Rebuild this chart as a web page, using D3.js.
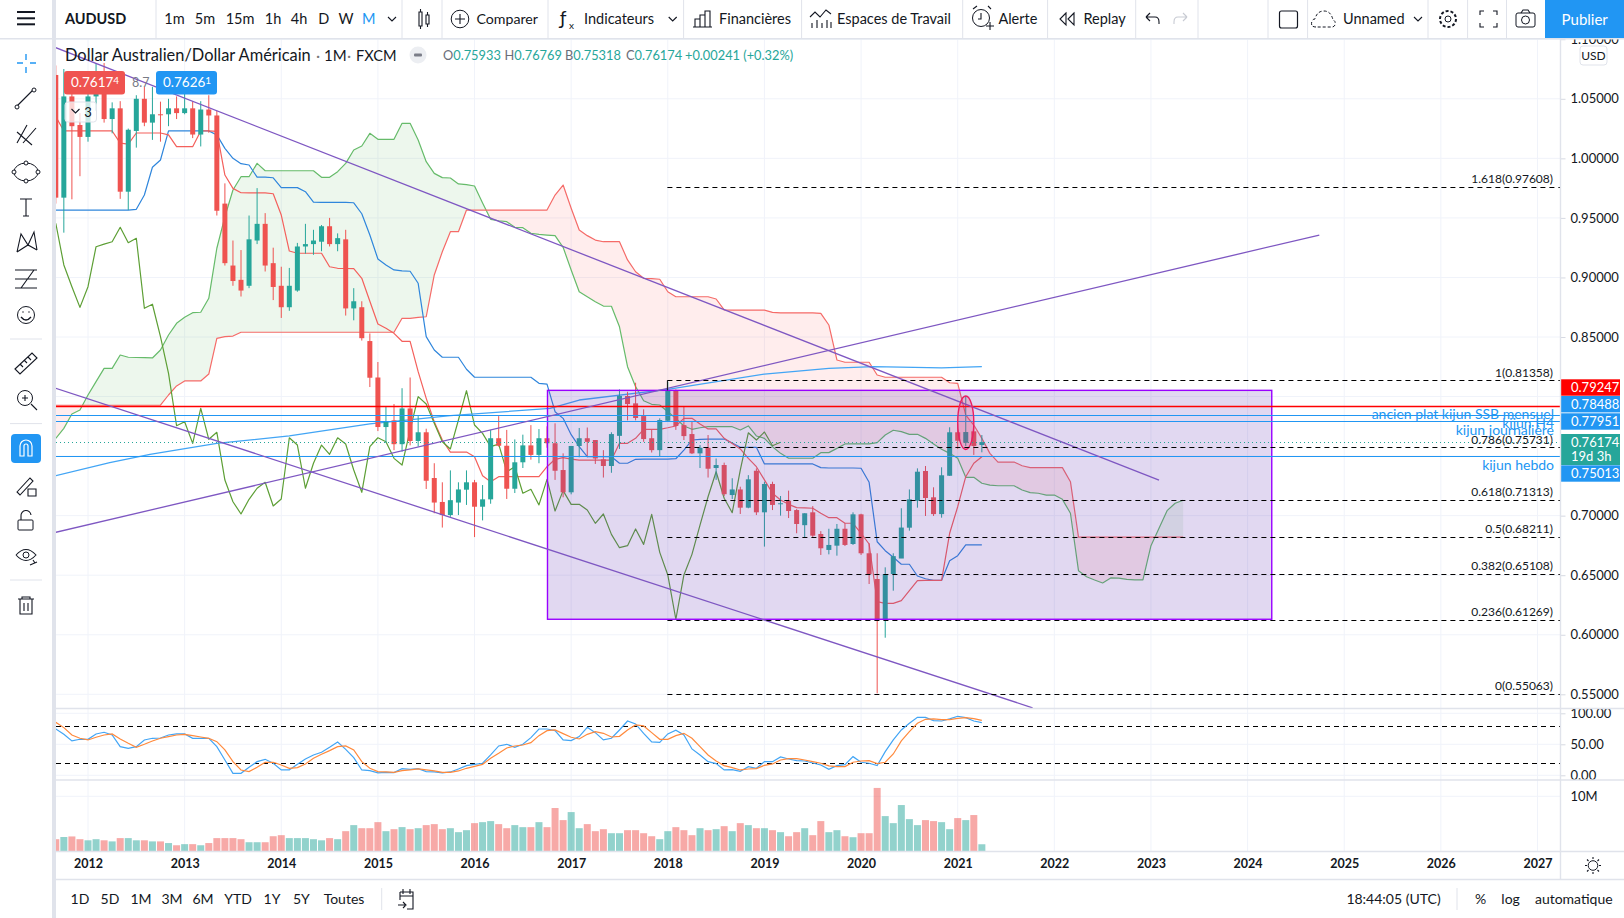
<!DOCTYPE html>
<html><head><meta charset="utf-8">
<script src="https://cdn.jsdelivr.net/npm/d3@7"></script>
<style>html,body{margin:0;padding:0;background:#fff;overflow:hidden}svg{display:block}
text{font-family:Lato,"Noto Sans",sans-serif;fill:#131722}</style></head>
<body><svg id="c" width="1624" height="918" xmlns="http://www.w3.org/2000/svg"></svg>
<script>
// ---- months are counted from Jan 2012; first candle = index -4 (Sep 2011)
const firstMonth=-4;
const opens=[1.070,.967,1.052,1.028,1.018,1.052,1.070,1.033,1.042,.972,
1.023,1.050,1.030,1.037,1.037,1.042,1.038,1.042,1.020,1.041,
1.036,.962,.910,.898,.893,.931,.945,.912,.893,.875,
.889,.926,.928,.930,.943,.928,.932,.874,.875,.8466,
.816,.7744,.780,.760,.790,.7627,.770,.7316,.7115,.7005,
.711,.7218,.728,.7075,.7137,.765,.7587,.7226,.7448,.759,
.751,.765,.7608,.7383,.7196,.7585,.765,.7635,.7473,.7417,
.767,.8005,.7943,.7836,.765,.755,.7797,.805,.776,.7685,
.7523,.757,.740,.7425,.7173,.722,.7067,.7377,.7028,.7266,
.7098,.7125,.7047,.692,.7028,.6846,.6712,.6748,.689,.6762,
.7011,.6684,.6468,.613,.651,.664,.6899,.7125,.7375,.7154,
.7013,.7335,.77,.7612,.7708,.75933];
const highs=[1.078,1.075,1.07,1.038,1.06,1.08,1.08,1.047,1.048,1.025,
1.053,1.06,1.06,1.0476,1.05,1.052,1.055,1.048,1.048,1.053,
1.04,.979,.931,.923,.952,.975,.954,.925,.909,.908,
.929,.945,.94,.944,.95,.937,.94,.891,.88,.853,
.829,.7915,.7937,.807,.816,.7836,.773,.744,.728,.738,
.728,.738,.73,.7257,.772,.7836,.772,.764,.768,.776,
.7727,.775,.7775,.7523,.7585,.7736,.774,.7635,.755,.77,
.806,.804,.8116,.7893,.772,.7817,.8125,.806,.7915,.779,
.7593,.7677,.748,.7445,.7314,.7243,.734,.7397,.7285,.7285,
.7165,.721,.7055,.702,.708,.687,.689,.693,.6936,.7028,
.7016,.6768,.6684,.6566,.6684,.7062,.722,.7397,.7417,.7238,
.7406,.7742,.7775,.8005,.775,.76769];
const lows=[.962,.9376,.9656,.985,1.014,1.04,1.03,1.021,.966,.9566,
1.009,1.027,1.0155,1.014,1.027,1.033,1.037,1.017,1.01,1.0215,
.952,.91,.893,.884,.891,.928,.905,.881,.866,.872,
.888,.92,.919,.922,.926,.922,.868,.864,.847,.808,
.771,.761,.755,.7537,.759,.758,.7224,.702,.69,.699,
.7005,.709,.682,.696,.71,.758,.714,.719,.74,.747,
.744,.757,.73,.7154,.7179,.749,.749,.7434,.732,.736,
.756,.78,.78,.762,.753,.75,.779,.772,.7635,.7517,
.74,.732,.73,.7165,.714,.7014,.7062,.7005,.674,.7047,
.70,.698,.6852,.6815,.6815,.667,.6675,.6664,.6745,.6754,
.667,.6426,.5508,.5975,.637,.6644,.6874,.7067,.6997,.6997,
.6983,.7333,.756,.7585,.751,.75318];
const closes=[.967,1.052,1.027,1.018,1.052,1.070,1.033,1.042,.972,1.024,
1.050,1.030,1.037,1.0366,1.042,1.038,1.042,1.020,1.041,1.036,
.956,.912,.897,.889,.932,.945,.910,.892,.875,.893,
.926,.928,.931,.943,.928,.933,.874,.880,.849,.8158,
.7744,.779,.760,.790,.7627,.770,.7293,.711,.7005,.713,
.722,.728,.7075,.7137,.765,.7587,.7226,.7448,.759,.751,
.765,.7608,.7377,.7196,.7585,.765,.762,.748,.7417,.7685,
.8005,.7937,.782,.7643,.755,.7803,.805,.7753,.7668,.7523,
.757,.7394,.7425,.718,.722,.7067,.7305,.7028,.7266,.709,
.7104,.7039,.693,.702,.6832,.6726,.6754,.689,.6754,.7011,
.6684,.6508,.613,.651,.666,.690,.7137,.7369,.7148,.7013,
.7339,.77,.7629,.7702,.7585,.76174];
const conversionLine=[.9566,.9566,.9566,.9566,.9566,.9566,.9566,.9566,.9566,.9566,
.9572,.9692,.9925,.9986,1.023,1.023,1.023,1.023,1.023,1.023,
1.0197,1.0084,1.0,.9955,.9944,.9842,.9842,.9837,.9754,.9754,
.9754,.972,.9632,.963,.963,.963,.963,.9627,.9535,.9356,
.9155,.9105,.9063,.9055,.9052,.8951,.8503,.8391,.833,.833,
.833,.8229,.8162,.8162,.8162,.8162,.8162,.8162,.8162,.8162,
.8111,.8105,.7873,.7817,.768,.7579,.7495,.7495,.7495,.7495,
.744,.744,.7473,.7475,.7475,.7475,.7475,.7478,.755,.7635,
.7641,.7642,.7642,.7643,.761,.7574,.7574,.7574,.7434,.7434,
.7434,.7434,.7434,.7434,.7434,.7403,.74,.74,.74,.74,
.7398,.728,.6781,.6706,.665,.6592,.6592,.6493,.647,.6457,
.6457,.6622,.6664,.6754,.6754,.6754];
const baseLine=[1.035,1.023,1.023,1.023,1.023,1.023,1.023,1.023,1.0128,1.012,
1.0213,1.0213,1.0213,1.0213,1.0197,1.0098,1.0098,1.0098,1.023,1.023,
1.0226,.986,.9748,.9711,.971,.971,.971,.9703,.9524,.9222,
.9203,.9203,.9203,.9203,.909,.9077,.9075,.9074,.8993,.88,
.8609,.8573,.8531,.8464,.8464,.8209,.7985,.7789,.7635,.7534,
.7534,.7534,.7495,.7335,.7285,.7327,.7327,.7327,.7327,.7327,
.7327,.7411,.7473,.7487,.7475,.7467,.7467,.7467,.7467,.7467,
.7607,.7607,.7649,.7725,.7725,.7725,.7738,.7753,.7817,.7817,
.777,.7728,.7728,.7649,.7605,.756,.7481,.7411,.73,.7188,
.7131,.7095,.7067,.7065,.7062,.702,.6983,.6983,.6936,.6936,
.6852,.6762,.6278,.6264,.6264,.6286,.637,.6454,.6456,.6457,
.6457,.6852,.7075,.7327,.744,.7495];
const laggingSpan=[.9455,.9105,.8922,.8749,.8922,.9258,.928,.93,.9421,.9292,
.9329,.8741,.8775,.8503,.8195,.7755,.7789,.7607,.7901,.7641,
.77,.7299,.7117,.7014,.7137,.723,.728,.7081,.714,.7654,
.7593,.723,.744,.7593,.7515,.7654,.7602,.7383,.7196,.7579,
.7654,.7621,.7481,.7425,.7719,.7999,.7937,.7775,.7621,.756,
.7803,.8049,.7761,.7691,.7579,.76,.7369,.7411,.7188,.7221,
.709,.7305,.7039,.721,.7095,.7095,.7047,.6936,.7014,.6843,
.6731,.6748,.6888,.6759,.7011,.6692,.6502,.613,.6502,.6675,
.6921,.7159,.7369,.7146,.7025,.7383,.7696,.7635,.7702,.7587,.7616];
const spanA=[.7649,.7733,.7853,.7887,.8013,.8125,.8237,.8237,.8349,.833,
.8328,.8326,.8324,.8391,.8517,.8615,.8665,.8704,.8708,.8825,
.9245,.951,.9734,.9846,.9846,.9958,.9896,.9896,.9896,.9896,
.9896,.9896,.9896,.9841,.9841,.9888,.9958,1.007,1.0104,1.021,
1.016,1.016,1.016,1.0294,1.0294,1.0154,.9972,.9874,.9838,.9835,
.9785,.9779,.9768,.9625,.9488,.9476,.9468,.9421,.9418,.9371,
.9362,.9356,.9351,.9253,.9063,.888,.8838,.8796,.876,.8758,
.8586,.8251,.8083,.7965,.7935,.7929,.7873,.7817,.7753,.7725,
.7738,.7747,.7747,.7747,.7747,.7719,.7753,.7669,.7649,.7579,
.7523,.7482,.7482,.7482,.7482,.7529,.7529,.7565,.7602,.7602,
.7602,.7602,.7613,.7677,.7717,.7705,.7683,.7683,.7649,.7602,
.7557,.7523,.7482,.7322,.7322,.7272,.7257,.7251,.7251,.7251,
.7215,.7193,.7188,.7173,.7173,.7137,.702,.6538,.6487,.646,
.6435,.6477,.6475,.6465,.646,.646,.6748,.6894,.7042,.7104,.7129];
const spanB=[.7927,.7927,.7927,.7927,.7927,.7927,.7927,.7927,.7927,.7927,
.7927,.7927,.7927,.7927,.8013,.8089,.8131,.8131,.8131,.8189,
.8489,.8503,.8508,.854,.854,.854,.854,.854,.854,.854,
.854,.854,.854,.854,.854,.854,.854,.854,.854,.854,
.854,.854,.854,.8657,.8657,.8665,.867,.9021,.9216,.9384,
.9384,.9566,.9566,.9566,.9566,.9566,.9566,.9566,.9566,.9566,
.9566,.9566,.9692,.9776,.9581,.9398,.9351,.9314,.93,.93,
.93,.9147,.9048,.8993,.899,.8985,.888,.8838,.8838,.8838,
.8838,.8838,.8819,.8727,.8725,.8725,.8725,.8725,.8725,.8707,
.8703,.8703,.8703,.8703,.8703,.8699,.8601,.8307,.8288,.8288,
.8288,.8288,.8181,.8162,.8162,.8162,.8162,.8162,.8162,.8162,
.8162,.8116,.8111,.7845,.7761,.7649,.7523,.745,.745,.745,
.7419,.7403,.7403,.7403,.7403,.7403,.7285,.682,.682,.682,
.682,.682,.682,.682,.682,.682,.682,.682,.682,.682,.682];
const maMonths=[-4,2.7,7.7,16,25,35,45,57.4,61,72,84,92,97.5,106,111];
const maValues=[.7335,.7445,.7515,.7607,.7669,.777,.7839,.7901,.7971,.8061,.8189,.8237,.8251,.824,.8251];
const stochK=[74.7,66.1,55.4,58.1,58.1,66.7,69.4,65,46.2,43.5,
46.2,57,59.7,60.2,65,66.7,66.7,59.7,59.7,59.7,
46.2,24.7,3.2,3.2,12.9,22,25.8,19.4,8.6,8.6,
17.7,26.3,32.8,37.1,45.2,53.8,41.9,28.5,8.6,7.5,
3.8,4.8,4.3,10.8,9.7,10.8,5.9,5.4,3.8,5.4,
10.2,15.6,17.7,19.4,32.8,47.3,50,45.2,50,60.8,
74.7,74.7,72,57,55.9,62.4,77.4,68.8,57,59.7,
73.1,87.6,82.8,67.7,53.8,53.2,66.7,72.6,65,42.5,
32.8,22,18.8,8.6,9.1,6.5,14,11.3,22,22,
29.6,26.3,23.7,23.1,19.9,16.7,9.7,15.6,17.2,30.1,
21,19.4,15.6,38.2,57,73.1,83.9,93.5,93.5,88.2,
87.6,90.9,95.2,93,87.6,84.9];
const stochD=[85.5,76.9,65,59.7,57,61.3,65,66.7,58.6,51.6,
45.2,50,55.4,59.7,62.4,65,66.1,64,61.8,59.7,
54.3,40.9,22,8.6,5.9,12.9,21,21,16.7,11.3,
12.4,18.3,27.4,33.9,39.8,46.2,47.3,40.9,22,11.3,
5.9,5.4,4.8,7.5,8.6,10.2,8.6,7,4.8,4.8,
7,11.3,14.5,17.7,27.4,35.5,44.1,47.3,48.9,52.7,
64,72,73.1,67.2,61.3,58.6,66.1,70.4,67.7,61.8,
62.9,73.1,81.2,79.6,68.8,58.1,58.1,64,67.7,59.7,
46.2,32.8,23.1,15.6,12.4,8.6,10.2,10.8,16.1,18.3,
24.7,26.9,26.9,24.7,22,19.4,15.1,14,14,21,
23.1,23.7,18.8,21,34.4,55.4,70.4,83.9,90.3,90.9,
89.8,89.8,91.9,93,91.4,88.7];
const volumes=[2.2,2.6,2.7,2.2,2,2.2,2,1.8,2.4,2.4,
2,2,1.8,1.8,1.5,1.1,1.3,1.3,1.1,1.5,
2.4,2.4,2.4,2.2,1.65,1.65,1.65,2.74,2.93,2.4,
2.4,2.4,2.2,2,2.4,2.2,3.66,4.76,4.2,4.2,
5.3,3.66,4.02,4.4,4.02,4.2,4.76,4.94,4.02,4.2,
3.48,3.84,5.12,5.3,5.49,4.94,4.2,4.76,4.39,4.39,
5.3,4.39,7.87,5.67,7.13,4.2,4.94,3.66,4.02,3.29,
3.29,3.84,3.84,3.29,2.74,2.2,3.66,4.39,3.84,2.93,
4.2,3.84,4.02,4.57,3.66,5.12,4.76,4.2,4.2,3.84,
3.48,2.74,3.48,4.2,2.93,5.49,3.48,3.84,2.74,2.56,
3.29,3.29,11.52,6.4,5.12,8.41,5.85,4.76,5.67,5.49,
5.3,4.02,6.04,5.67,6.59,1.28];
const fibLevels=[1.618,1,.786,.618,.5,.382,.236,0];
const fibPrices=[.97608,.81358,.75731,.71313,.68211,.65108,.61269,.55063];
const priceTicks=[.55,.60,.65,.70,.75,.80,.85,.90,.95,1.00,1.05,1.10];
const axisPriceTicks=[.55,.60,.65,.70,1.00,.90,.95,1.05,1.10,.85];
const yearTicks=[0,12,24,36,48,60,72,84,96,108,120,132,144,156,168,180];
const yearLabels=["2012","2013","2014","2015","2016","2017","2018","2019","2020","2021","2022","2023","2024","2025","2026","2027"];
const stochTicks=[0,50,100], stochBands=[20,80], volumeTicks=[10];
// trend lines as [month,price,month,price]
const trendDown1=[-4,1.0929,133,.7299], trendDown2=[-4,.8069,117.3,.5387], trendUp=[-4,.686,152.9,.9356];
const box=[57.06,.8052,147,.613];
const ellipseBox=[108,.8005,110,.7556];
const blueLevels=[.78488,.77951,.75013], redLevel=.79247, lastPrice=.76174;
const fibStartMonth=71.95;

// ---- scales
const L=56,R=1560.5;
const x=d3.scaleLinear().domain([0,180]).range([88,1537.5]);
const y=d3.scaleLinear().domain([.55,1.05]).range([694.3,98.8]);
const yS=d3.scaleLinear().domain([0,100]).range([775.3,713.3]);
const yV=d3.scaleLinear().domain([0,10]).range([851.3,796.3]);
const crisp=v=>Math.round(v)+.5;
const svg=d3.select('#c');
const GRID='#f0f3fa',UP='#26a69a',DN='#ef5350',BL='#2196f3',TXT='#131722',SEP='#e0e3eb';
const defs=svg.append('defs');
[['cp-main',39,708.5],['cp-st',709,780],['cp-vol',781,851.5]].forEach(([id,a,b])=>
 defs.append('clipPath').attr('id',id).append('rect').attr('x',L).attr('y',a).attr('width',R-L).attr('height',b-a));
const ser=(a,start=firstMonth)=>Array.from(a,(v,k)=>({m:start+k,v}));

// ---- grid
const grid=svg.append('g').attr('stroke',GRID).attr('stroke-width',1);
grid.selectAll('.v').data(yearTicks).join('line').attr('x1',d=>x(d)).attr('x2',d=>x(d)).attr('y1',39).attr('y2',851);
grid.selectAll('.h').data(priceTicks).join('line').attr('x1',L).attr('x2',R).attr('y1',d=>y(d)).attr('y2',d=>y(d));
grid.selectAll('.s').data(stochTicks).join('line').attr('x1',L).attr('x2',R).attr('y1',d=>yS(d)).attr('y2',d=>yS(d));
grid.selectAll('.w').data(volumeTicks).join('line').attr('x1',L).attr('x2',R).attr('y1',d=>yV(d)).attr('y2',d=>yV(d));

// ---- main pane
const main=svg.append('g').attr('clip-path','url(#cp-main)');
const cloud=[];
spanA.forEach((a,k)=>{const b=spanB[k];cloud.push({m:firstMonth+k,a,b});
 if(k<spanA.length-1){const a2=spanA[k+1],b2=spanB[k+1];
  if((a-b)*(a2-b2)<0){const t=(a-b)/((a-b)-(a2-b2));cloud.push({m:firstMonth+k+t,a:a+(a2-a)*t,b:b+(b2-b)*t});}}});
main.append('path').attr('fill','rgba(76,175,80,.1)').attr('d',d3.area().x(d=>x(d.m)).y0(d=>y(d.b)).y1(d=>y(Math.max(d.a,d.b)))(cloud));
main.append('path').attr('fill','rgba(255,82,82,.1)').attr('d',d3.area().x(d=>x(d.m)).y0(d=>y(d.a)).y1(d=>y(Math.max(d.a,d.b)))(cloud));
const ln=d3.line().x(d=>x(d.m)).y(d=>y(d.v));
const drawLine=(g,a,c,w=1.2)=>g.append('path').attr('fill','none').attr('stroke',c).attr('stroke-width',w).attr('stroke-linejoin','round').attr('d',ln(a));
drawLine(main,ser(spanA),'#66bb6a');
drawLine(main,ser(spanB),'#f56b68');
drawLine(main,ser(conversionLine),'#2f86dc');
drawLine(main,ser(baseLine),'#f4605c');
drawLine(main,ser(laggingSpan),'#5d9f35');
drawLine(main,maMonths.map((m,k)=>({m,v:maValues[k]})),'#42a5f5',1.3);

// candles
const candles=opens.map((o,k)=>({m:firstMonth+k,o,h:highs[k],l:lows[k],c:closes[k]}));
const cg=main.append('g');
cg.selectAll('.w').data(candles).join('line').attr('x1',d=>x(d.m)).attr('x2',d=>x(d.m)).attr('y1',d=>y(d.h)).attr('y2',d=>y(d.l))
 .attr('stroke',d=>d.c>=d.o?UP:DN).attr('stroke-width',1);
cg.selectAll('.b').data(candles).join('rect').attr('x',d=>x(d.m)-2.5).attr('width',5).attr('y',d=>y(Math.max(d.o,d.c)))
 .attr('height',d=>Math.max(1,Math.abs(y(d.o)-y(d.c)))).attr('fill',d=>d.c>=d.o?UP:DN);

// rectangle drawing
main.append('rect').attr('x',x(box[0])).attr('y',y(box[1])).attr('width',x(box[2])-x(box[0])).attr('height',y(box[3])-y(box[1]))
 .attr('fill','rgba(103,58,183,.2)').attr('stroke','#9900ff').attr('stroke-width',1.4);
// horizontals
main.append('line').attr('x1',L).attr('x2',R).attr('y1',crisp(y(redLevel))).attr('y2',crisp(y(redLevel))).attr('stroke','#ff0000').attr('stroke-width',1.4);
main.selectAll('.bl').data(blueLevels).join('line').attr('x1',L).attr('x2',R).attr('y1',d=>crisp(y(d))).attr('y2',d=>crisp(y(d))).attr('stroke',BL).attr('stroke-width',1.2);
main.append('line').attr('x1',L).attr('x2',R).attr('y1',crisp(y(lastPrice))).attr('y2',crisp(y(lastPrice))).attr('stroke',UP).attr('stroke-dasharray','1 3').attr('stroke-width',1.2);
// trend lines
[trendDown1,trendDown2,trendUp].forEach(t=>main.append('line').attr('x1',x(t[0])).attr('y1',y(t[1])).attr('x2',x(t[2])).attr('y2',y(t[3])).attr('stroke','#7e57c2').attr('stroke-width',1.3));
// fib
const fibG=svg.append('g');
fibG.selectAll('line').data(fibPrices).join('line').attr('x1',x(fibStartMonth)).attr('x2',R).attr('y1',d=>crisp(y(d))).attr('y2',d=>crisp(y(d)))
 .attr('stroke','#000').attr('stroke-dasharray','5 4').attr('stroke-width',1.1);
fibG.selectAll('text').data(fibPrices).join('text').attr('x',1553).attr('y',d=>y(d)-3.6).attr('text-anchor','end').attr('font-size',12)
 .text((d,k)=>`${fibLevels[k]}(${d.toFixed(5)})`);
main.append('line').attr('x1',x(fibStartMonth)).attr('x2',x(fibStartMonth)).attr('y1',y(fibPrices[1])).attr('y2',y(box[1])).attr('stroke','#111');
// ellipse
main.append('ellipse').attr('cx',x((ellipseBox[0]+ellipseBox[2])/2)).attr('cy',y((ellipseBox[1]+ellipseBox[3])/2))
 .attr('rx',(x(ellipseBox[2])-x(ellipseBox[0]))/2).attr('ry',(y(ellipseBox[3])-y(ellipseBox[1]))/2)
 .attr('fill','rgba(233,30,99,.2)').attr('stroke','#e91e63').attr('stroke-width',1.4);

// blue notes
const notes=[["ancien plat kijun SSB mensuel",419],["kijun H4",427.7],["kijun journalière",434.7],["kijun hebdo",470]];
svg.append('g').selectAll('text').data(notes).join('text').attr('x',1554).attr('y',d=>d[1]).attr('text-anchor','end').attr('font-size',14).style('fill',BL).text(d=>d[0]);

// ---- stoch
const st=svg.append('g').attr('clip-path','url(#cp-st)');
st.selectAll('line').data(stochBands).join('line').attr('x1',L).attr('x2',R).attr('y1',d=>crisp(yS(d))).attr('y2',d=>crisp(yS(d))).attr('stroke','#000').attr('stroke-dasharray','5 4').attr('stroke-width',1.1);
const ls=d3.line().x(d=>x(d.m)).y(d=>yS(d.v));
st.append('path').attr('fill','none').attr('stroke','#42a5f5').attr('stroke-width',1.2).attr('d',ls(ser(stochK)));
st.append('path').attr('fill','none').attr('stroke','#ff8a3d').attr('stroke-width',1.2).attr('d',ls(ser(stochD)));

// ---- volume
const vg=svg.append('g').attr('clip-path','url(#cp-vol)');
vg.selectAll('rect').data(ser(volumes)).join('rect').attr('x',d=>x(d.m)-3.5).attr('width',7).attr('y',d=>yV(d.v)).attr('height',d=>yV(0)-yV(d.v))
 .attr('fill',d=>closes[d.m-firstMonth]>=opens[d.m-firstMonth]?'#26a69a':'#ef5350').attr('opacity',.5);

// ---- axes
const styleAxis=g=>{g.select('.domain').remove();g.selectAll('line').attr('stroke','#d6d9e2');g.selectAll('text').attr('font-size',13).style('fill',TXT);};
svg.append('g').attr('transform',`translate(${R},0)`).call(d3.axisRight(y).tickValues(axisPriceTicks).tickFormat(d3.format('.5f')).tickSize(5).tickPadding(5)).call(styleAxis);
svg.append('g').attr('transform',`translate(${R},0)`).call(d3.axisRight(yS).tickValues(stochTicks).tickFormat(d3.format('.2f')).tickSize(5).tickPadding(5)).call(styleAxis);
svg.append('g').attr('transform',`translate(${R},0)`).call(d3.axisRight(yV).tickValues(volumeTicks).tickFormat(d=>d+'M').tickSize(0).tickPadding(10)).call(styleAxis);
svg.append('g').attr('transform','translate(0,851.5)').call(d3.axisBottom(x).tickValues(yearTicks).tickFormat((d,k)=>yearLabels[k]).tickSize(0).tickPadding(8))
 .call(styleAxis).call(g=>g.selectAll('text').attr('font-weight',700).attr('font-size',12.5));

// price tags
const tags=[[379.3,16.4,'#ff0000','0.79247'],[396,16.4,BL,'0.78488'],[413.3,16.4,BL,'0.77951'],[465.3,16.4,BL,'0.75013']];
tags.forEach(([t,h,c,s])=>{svg.append('rect').attr('x',1561).attr('y',t).attr('width',59).attr('height',h).attr('fill',c);
 svg.append('text').attr('x',1571).attr('y',t+h/2+4.6).attr('font-size',13).style('fill','#fff').text(s);});
svg.append('rect').attr('x',1561).attr('y',434).attr('width',59).attr('height',31).attr('fill',UP);
svg.append('text').attr('x',1571).attr('y',447).attr('font-size',13).style('fill','#fff').text('0.76174');
svg.append('text').attr('x',1571).attr('y',461).attr('font-size',13).style('fill','#fff').text('19d 3h');

// frame
const fr=svg.append('g').attr('stroke',SEP).attr('stroke-width',1.4);
[[L,708.5,1624,708.5],[L,780,1624,780],[L,851.5,1624,851.5],[L,879.5,1624,879.5],[R,39,R,879.5]].forEach(a=>fr.append('line').attr('x1',a[0]).attr('y1',a[1]).attr('x2',a[2]).attr('y2',a[3]));

// ---- chrome: top bar
const I='#131722';
svg.append('rect').attr('x',0).attr('y',0).attr('width',1624).attr('height',38).attr('fill','#fff');
svg.append('rect').attr('x',0).attr('y',38).attr('width',1624).attr('height',1.5).attr('fill',SEP);
svg.append('rect').attr('x',52).attr('y',0).attr('width',4).attr('height',918).attr('fill',SEP);
const T=(s,xx,yy,o={})=>{const t=svg.append('text').attr('x',xx).attr('y',yy).attr('font-size',o.size||14).attr('text-anchor',o.a||'start').style('fill',o.c||TXT).text(s);if(o.b)t.attr('font-weight',o.b);return t;};
[156,402,442,548,683.6,801.6,962.7,1047.6,1135.7,1198,1268,1307.6,1428,1467.6,1506.5].forEach(v=>svg.append('line').attr('x1',v).attr('x2',v).attr('y1',0).attr('y2',38).attr('stroke',SEP));
[12,18.3,24.3].forEach(v=>svg.append('rect').attr('x',17).attr('y',v-1).attr('width',18).attr('height',2).attr('fill',I));
T('AUDUSD',65,24,{size:14.5,b:700});
[['1m',174.5],['5m',205],['15m',240],['1h',273],['4h',299],['D',323.7],['W',346]].forEach(d=>T(d[0],d[1],24,{a:'middle',size:14.5}));
T('M',368.7,24,{a:'middle',c:BL,size:14.5});
const P=(d,c=I,w=1.1,f='none')=>svg.append('path').attr('d',d).attr('fill',f).attr('stroke',c).attr('stroke-width',w);
const chev=(a,b)=>P(`M${a-4} ${b-2}l4 4l4 -4`);
chev(392,19);chev(672.7,19);chev(1418,19);
P('M419 12h3v14h-3zM426 15h3v9h-3zM420.5 9v3M420.5 26v3M427.5 12v3M427.5 24v3');
svg.append('circle').attr('cx',460).attr('cy',19).attr('r',8.8).attr('fill','none').attr('stroke',I);P('M460 14v10M455 19h10');
T('Comparer',476.4,24,{size:14.2});
T('ƒ',560,25,{size:19});T('x',569,29,{size:10});
T('Indicateurs',584,24,{size:14.5});
P('M695 27v-8h5v8M700 27v-12h5v12M705 27v-16h5v16M693 27h19');
T('Financières',719,24,{size:14.5});
P('M810 17l5 -5l5 5l6 -7l5 4M812 28v-5M817 28v-8M822 28v-5M827 28v-8M831 28v-6');
T('Espaces de Travail',837,24,{size:14.5});
svg.append('circle').attr('cx',981).attr('cy',18).attr('r',8.5).attr('fill','none').attr('stroke',I);P('M981 13v6h-3M986 26h8M990 22v8M973 9l4 -3M988 6l3 3');
T('Alerte',998.4,24,{size:14.5});
P('M1066 13l-6 6l6 6zM1074 13l-6 6l6 6z');
T('Replay',1083.4,24,{size:14.5});
P('M1146 17h9q4 0 4 5v2M1146 17l4 -4M1146 17l4 4');
P('M1187 17h-9q-4 0 -4 5v2M1187 17l-4 -4M1187 17l-4 4','#c8cbd3');
svg.append('rect').attr('x',1279.5).attr('y',11).attr('width',18).attr('height',17).attr('rx',2).attr('fill','none').attr('stroke',I).attr('stroke-width',1.2);
P('M1316 27q-6 0 -4 -6q1 -2 3 -2q2 -8 9 -8q7 0 9 9q3 1 2 5q-1 2 -3 2z',I,1,'none').attr('stroke-dasharray','3 2');
T('Unnamed',1343,24,{size:14.5});
svg.append('circle').attr('cx',1448).attr('cy',19).attr('r',3).attr('fill','none').attr('stroke',I);
svg.append('circle').attr('cx',1448).attr('cy',19).attr('r',8).attr('fill','none').attr('stroke',I).attr('stroke-dasharray','3 2').attr('stroke-width',2);
P('M1480 15v-4h4M1493 11h4v4M1480 23v4h4M1497 23v4h-4');
svg.append('rect').attr('x',1516).attr('y',13).attr('width',19).attr('height',14).attr('rx',2).attr('fill','none').attr('stroke',I);
svg.append('circle').attr('cx',1525.5).attr('cy',20).attr('r',4).attr('fill','none').attr('stroke',I);P('M1521 13l2 -3h5l2 3');
svg.append('rect').attr('x',1545).attr('y',0).attr('width',79).attr('height',38).attr('fill',BL);
T('Publier',1584.7,25,{a:'middle',size:15,}).style('fill','#fff');

// legend
T('Dollar Australien/Dollar Américain',65,60.5,{size:16.4});
T('·',316,60.5,{size:16,c:'#777'});
T('1M',324,60.5,{size:15});T('·',347,60.5,{size:16,c:'#777'});T('FXCM',356,60.5,{size:14.6});
svg.append('circle').attr('cx',418).attr('cy',55).attr('r',8.5).attr('fill','#eceef2');
svg.append('rect').attr('x',414).attr('y',53.5).attr('width',8).attr('height',3).attr('rx',1).attr('fill','#7a7d88');
const oh=[['O',443,'0.75933'],['H',504.5,'0.76769'],['B',565,'0.75318'],['C',626,'0.76174']];
oh.forEach(d=>{const t=T(d[0],d[1],60,{size:12.8,c:'#6a6d78'});t.append('tspan').style('fill',UP).text(d[2]);});
T('+0.00241 (+0.32%)',685,60,{size:12.8,c:UP});
// tags
svg.append('rect').attr('x',64).attr('y',71).attr('width',61).attr('height',23.5).attr('rx',3).attr('fill',DN);
T('0.7617',71,87,{size:13.5,c:'#fff'}).append('tspan').attr('font-size',10).attr('dy',-3).style('fill','#fff').text('4');
T('8.7',140.7,87,{size:12.5,a:'middle',c:'#787b86'});
svg.append('rect').attr('x',156).attr('y',71).attr('width',61).attr('height',23.5).attr('rx',3).attr('fill',BL);
T('0.7626',163,87,{size:13.5,c:'#fff'}).append('tspan').attr('font-size',10).attr('dy',-3).style('fill','#fff').text('1');
svg.append('rect').attr('x',65).attr('y',102).attr('width',31.5).attr('height',20).attr('rx',3).attr('fill','rgba(255,255,255,.75)').attr('stroke','#e0e3eb');
chev(75.5,111);T('3',88,116.5,{size:13,a:'middle'});
// USD box
svg.append('rect').attr('x',1580).attr('y',46).attr('width',27).attr('height',19).attr('rx',3).attr('fill','#fff').attr('stroke','#e0e3eb');
T('USD',1593.5,59.5,{size:12,a:'middle'});

// ---- left toolbar
P('M26 54v6M26 67v6M17 63h6M30 63h6',BL,1.4);
P('M17 106L33 90');svg.append('circle').attr('cx',17).attr('cy',107).attr('r',2).attr('fill','#fff').attr('stroke',I);svg.append('circle').attr('cx',34).attr('cy',90).attr('r',2).attr('fill','#fff').attr('stroke',I);
P('M17 143L27 125M23 143L36 128M17 132L32 145');
svg.append('ellipse').attr('cx',26).attr('cy',172).attr('rx',12).attr('ry',9).attr('fill','none').attr('stroke',I);
[[14,172],[38,172],[26,163],[26,181]].forEach(p=>svg.append('circle').attr('cx',p[0]).attr('cy',p[1]).attr('r',2).attr('fill','#fff').attr('stroke',I));
P('M20 199h12M26 199v17M23 216h6');
P('M17 252L21 234L28 245L34 232L37 250M17 252L28 245L37 250');
P('M15 270h22M15 279h22M15 288h22M21 288L34 270');
svg.append('circle').attr('cx',26).attr('cy',315).attr('r',8.5).attr('fill','none').attr('stroke',I);P('M21 317q5 6 10 0M22.5 312h1M28.5 312h1',I,1.3);
[339,423.6,580].forEach(v=>svg.append('line').attr('x1',10).attr('x2',42).attr('y1',v).attr('y2',v).attr('stroke',SEP));
P('M15 369L32 353L37 358L20 374ZM20 364l3 3M24 360l3 3M28 357l3 3');
svg.append('circle').attr('cx',25).attr('cy',398).attr('r',7.5).attr('fill','none').attr('stroke',I);P('M31 404l6 6M22 398h6M25 395v6');
svg.append('rect').attr('x',11).attr('y',434).attr('width',30).attr('height',29).attr('rx',4).attr('fill',BL);
P('M20 456v-10a6 6 0 0 1 12 0v10h-4v-10a2 2 0 0 0 -4 0v10z','#fff',1.2);
P('M17 492L30 478l3 3L20 495zM28 489h8v7h-8z');
svg.append('rect').attr('x',18).attr('y',520).attr('width',15).attr('height',10).attr('rx',1).attr('fill','none').attr('stroke',I);P('M21 520v-4a5 5 0 0 1 10 -1');
P('M16 555q10 -11 20 0q-10 11 -20 0');svg.append('circle').attr('cx',26).attr('cy',555).attr('r',3).attr('fill','none').attr('stroke',I);P('M30 565l7 -3M33 560l2 3');
P('M18 599h16M22 599v-2h8v2M20 599v15h12v-15M24 603v8M28 603v8');

// ---- bottom bar
[['1D',80],['5D',110],['1M',141],['3M',172],['6M',203],['YTD',238],['1Y',272],['5Y',301.4],['Toutes',344]].forEach(d=>T(d[0],d[1],904,{a:'middle',size:14}));
[381.7,1457].forEach(v=>svg.append('line').attr('x1',v).attr('x2',v).attr('y1',888).attr('y2',910).attr('stroke',SEP));
P('M400 892h13v17h-6M400 892v8M403 889v5M410 889v5M400 896h13M398 905h7M403 902l3 3l-3 3');
T('18:44:05 (UTC)',1393.5,904,{a:'middle',size:14});
T('%',1480.5,904,{a:'middle',size:14});T('log',1510.6,904,{a:'middle',size:14});T('automatique',1573.8,904,{a:'middle',size:14});
svg.append('circle').attr('cx',1593).attr('cy',865.5).attr('r',4.8).attr('fill','none').attr('stroke',I);
P('M1593 857v2M1593 872v2M1585 865.5h2M1599 865.5h2M1587 859.5l1.5 1.5M1597.5 870l1.5 1.5M1587 871.5l1.5 -1.5M1597.5 861l1.5 -1.5');
</script></body></html>
